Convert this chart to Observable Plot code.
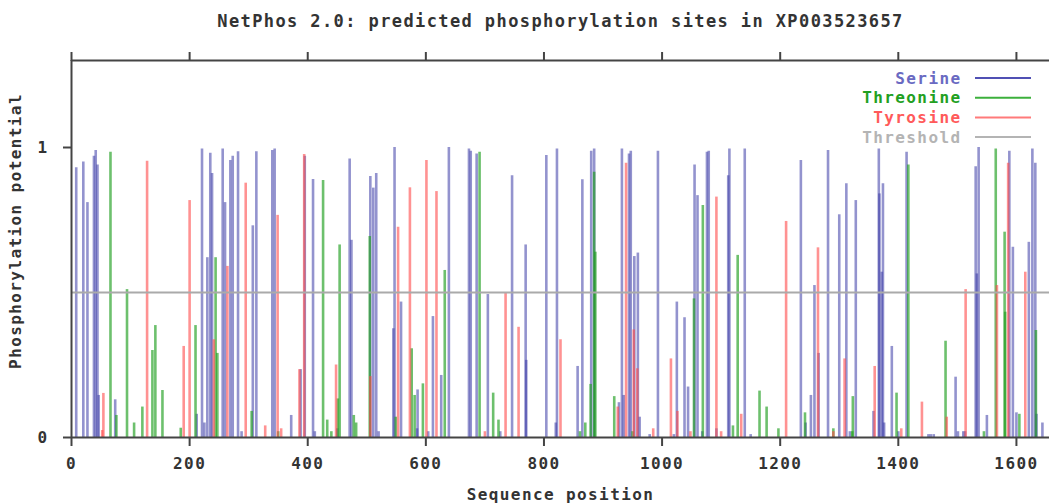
<!DOCTYPE html>
<html>
<head>
<meta charset="utf-8">
<script src="https://cdn.jsdelivr.net/npm/d3@7"></script>
<script src="https://cdn.jsdelivr.net/npm/@observablehq/plot@0.6"></script>
<style>
  html, body { margin: 0; padding: 0; background: #fff; }
  #chart svg { display: block; background: #fff; }
  #chart svg text { font-family: "DejaVu Sans Mono", monospace; font-weight: bold; }
</style>
</head>
<body>
<div id="chart"></div>
<script>
// ---------- data ----------
const titleText = "NetPhos 2.0: predicted phosphorylation sites in XP003523657";
const xLabel = "Sequence position";
const yLabel = "Phosphorylation potential";
const xTicks = [0, 200, 400, 600, 800, 1000, 1200, 1400, 1600];
const yTicks = [0, 1];
const threshold = 0.5;

const legendNames = ["Serine", "Threonine", "Tyrosine", "Threshold"];

const serinePos = [8, 20, 27, 38, 41, 44, 46, 74, 212, 221, 225, 230, 235, 238, 256, 260, 269, 273, 282, 288,
  307, 313, 340, 344, 372, 388, 395, 409, 412, 450, 471, 474, 506, 511, 516, 520, 545, 547, 558, 585,
  586, 604, 612, 626, 639, 673, 676, 686, 705, 726, 746, 769, 770, 804, 820, 822, 857, 865, 880, 885,
  927, 932, 935, 944, 947, 953, 959, 962, 979, 993, 1020, 1025, 1038, 1044, 1055, 1060, 1068, 1076, 1079, 1092,
  1112, 1114, 1140, 1150, 1235, 1243, 1252, 1258, 1265, 1281, 1300, 1312, 1318, 1328, 1358, 1367, 1368, 1372, 1374, 1376,
  1389, 1400, 1414, 1451, 1455, 1460, 1497, 1501, 1510, 1513, 1531, 1533, 1536, 1550, 1588, 1594, 1600, 1621, 1627, 1632,
  1634, 1644];
const serineVal = [0.93, 0.95, 0.81, 0.97, 0.99, 0.94, 0.145, 0.13, 0.08, 0.995, 0.05, 0.62, 0.98, 0.91, 0.995, 0.81, 0.955, 0.97, 0.985, 0.02,
  0.73, 0.985, 0.99, 0.995, 0.076, 0.234, 0.97, 0.89, 0.02, 0.03, 0.96, 0.68, 0.90, 0.86, 0.91, 0.02, 0.375, 1.0, 0.467, 0.03,
  0.164, 0.02, 0.417, 0.214, 1.0, 0.995, 0.987, 0.978, 0.493, 0.02, 0.903, 0.664, 0.266, 0.972, 0.05, 0.995, 0.245, 0.889, 0.987, 0.995,
  0.12, 0.995, 0.145, 0.978, 0.987, 0.624, 0.636, 0.07, 0.01, 0.987, 0.01, 0.467, 0.413, 0.174, 0.94, 0.834, 0.02, 0.984, 0.987, 0.03,
  0.903, 0.995, 0.995, 0.01, 0.955, 0.05, 0.145, 0.524, 0.29, 0.99, 0.768, 0.875, 0.02, 0.817, 0.09, 0.995, 0.84, 0.57, 0.875, 0.05,
  0.314, 0.02, 0.984, 0.01, 0.01, 0.01, 0.208, 0.02, 0.02, 0.02, 0.934, 0.564, 1.0, 0.076, 0.987, 0.656, 0.085, 0.673, 0.995, 0.946,
  0.08, 0.05];

const threoninePos = [66, 76, 94, 106, 120, 137, 142, 154, 185, 210, 244, 247, 305, 350, 426, 433, 440, 451, 454, 478,
  482, 505, 549, 576, 581, 595, 632, 691, 714, 723, 861, 870, 879, 885, 887, 919, 950, 1054, 1069, 1120,
  1128, 1165, 1177, 1197, 1242, 1290, 1322, 1323, 1397, 1417, 1480, 1545, 1565, 1580, 1581, 1605, 1633];
const threonineVal = [0.984, 0.076, 0.51, 0.05, 0.105, 0.30, 0.386, 0.162, 0.032, 0.386, 0.62, 0.29, 0.09, 0.02, 0.886, 0.06, 0.02, 0.133, 0.664, 0.076,
  0.05, 0.693, 0.07, 0.306, 0.145, 0.185, 0.576, 0.984, 0.153, 0.06, 0.02, 0.05, 0.183, 0.915, 0.639, 0.141, 0.02, 0.478, 0.8, 0.04,
  0.628, 0.16, 0.105, 0.03, 0.085, 0.03, 0.02, 0.141, 0.153, 0.94, 0.332, 0.02, 0.995, 0.708, 0.432, 0.08, 0.369];

const tyrosinePos = [52, 54, 128, 190, 200, 241, 264, 295, 328, 349, 355, 386, 394, 448, 506, 553, 573, 601, 618, 700,
  735, 757, 828, 925, 939, 952, 958, 985, 1015, 1026, 1048, 1092, 1100, 1134, 1210, 1264, 1290, 1309, 1360, 1405,
  1440, 1482, 1514, 1567, 1586, 1615];
const tyrosineVal = [0.024, 0.152, 0.953, 0.314, 0.817, 0.337, 0.59, 0.877, 0.04, 0.766, 0.03, 0.234, 0.976, 0.25, 0.21, 0.725, 0.861, 0.955, 0.848, 0.02,
  0.499, 0.38, 0.337, 0.105, 0.946, 0.371, 0.237, 0.03, 0.271, 0.09, 0.02, 0.829, 0.02, 0.08, 0.745, 0.654, 0.02, 0.271, 0.245, 0.03,
  0.122, 0.07, 0.51, 0.524, 0.946, 0.57];

// ---------- styles ----------
const colSer = "#3a3aa6", colThr = "#1e9e1e", colTyr = "#ff4a4a", colThrsh = "#aaaaaa";
const legendText = ["#6a6ac2", "#22a022", "#ff5a5a", "#b4b4b4"];
const legendLine = ["#5050b4", "#3cb03c", "#ff7a7a", "#b4b4b4"];

const toRows = (p, v) => p.map((d, i) => ({pos: d, val: v[i]}));
const serine = toRows(serinePos, serineVal);
const threonine = toRows(threoninePos, threonineVal);
const tyrosine = toRows(tyrosinePos, tyrosineVal);

const W = 1049, H = 504;
const frameColor = "#444";
const textColor = "#333";

const bars = (data, color, op) => Plot.ruleX(data, {
  x: "pos", y1: 0, y2: "val", stroke: color, strokeWidth: 2.6, strokeOpacity: op
});

const plot = Plot.plot({
  width: W,
  height: H,
  marginLeft: 71,
  marginRight: 0,
  marginTop: 60,
  marginBottom: 67,
  style: {fontFamily: "DejaVu Sans Mono, monospace", background: "#fff"},
  x: {domain: [0, 1656]},
  y: {domain: [0, 1.3]},
  marks: [
    bars(serine, colSer, 0.55),
    bars(threonine, colThr, 0.65),
    bars(tyrosine, colTyr, 0.6),
    Plot.ruleY([threshold], {stroke: colThrsh, strokeWidth: 1.8}),
    // frame: left, top, bottom
    Plot.ruleX([0], {stroke: frameColor, strokeWidth: 2}),
    Plot.ruleY([1.3], {stroke: frameColor, strokeWidth: 2}),
    Plot.ruleY([0], {stroke: frameColor, strokeWidth: 2}),
    Plot.axisX({anchor: "bottom", ticks: xTicks, tickSize: 9, tickPadding: 11, tickFormat: d => String(d),
      fontSize: 16, label: null, stroke: frameColor, strokeWidth: 2, fill: textColor}),
    Plot.axisX({anchor: "top", ticks: xTicks, tickSize: 9, tickFormat: () => "", label: null,
      stroke: frameColor, strokeWidth: 2}),
    Plot.axisY({anchor: "left", ticks: yTicks, tickSize: 8, tickPadding: 15, tickFormat: d => String(d),
      fontSize: 16, label: null, stroke: frameColor, strokeWidth: 2, fill: textColor}),
    // title and axis labels
    Plot.text([titleText], {frameAnchor: "top", dy: -39, lineAnchor: "middle", textAnchor: "middle",
      text: d => d, fontSize: 17, fill: textColor}),
    Plot.text([xLabel], {frameAnchor: "bottom", dy: 57, lineAnchor: "middle", textAnchor: "middle",
      text: d => d, fontSize: 16, fill: textColor}),
    Plot.text([yLabel], {frameAnchor: "left", dx: -56, dy: -18, rotate: -90, lineAnchor: "middle", textAnchor: "middle",
      text: d => d, fontSize: 16, fill: textColor}),
    // legend labels
    ...legendNames.map((name, i) => Plot.text([name], {
      frameAnchor: "top-right", dx: -88, dy: 18 + i * 19.7, text: d => d,
      textAnchor: "end", lineAnchor: "middle", fontSize: 16, fill: legendText[i]
    }))
  ]
});

const svg = d3.select(plot);
svg.selectAll("text").style("letter-spacing", "1.4px");

// legend sample lines
legendNames.forEach((name, i) => {
  svg.append("line")
    .attr("x1", W - 74).attr("x2", W - 18)
    .attr("y1", 78 + i * 19.7).attr("y2", 78 + i * 19.7)
    .attr("stroke", legendLine[i]).attr("stroke-width", 2);
});

document.getElementById("chart").appendChild(plot);
</script>
</body>
</html>
